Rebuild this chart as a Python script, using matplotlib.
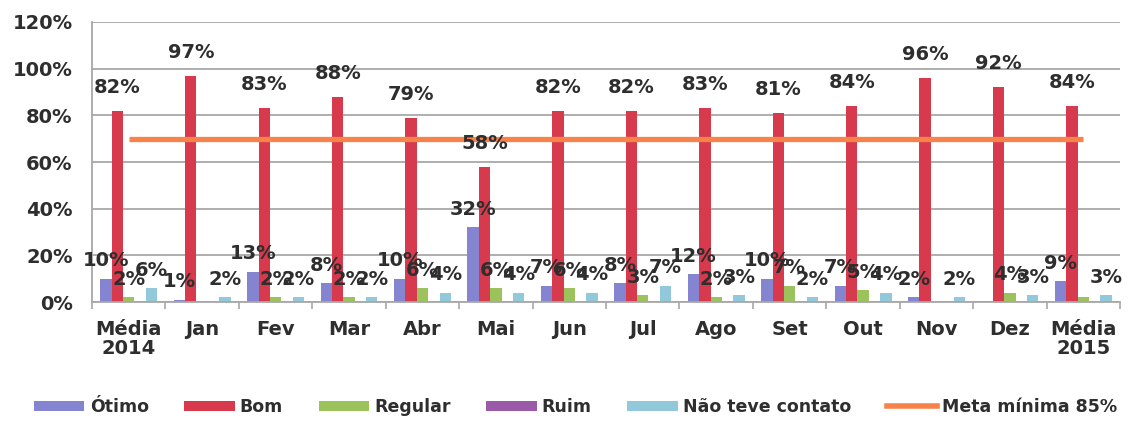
import matplotlib
matplotlib.use("Agg")
import matplotlib.pyplot as plt
import numpy as np
from matplotlib.patches import Patch
from matplotlib.lines import Line2D

categories = ["Média\n2014", "Jan", "Fev", "Mar", "Abr", "Mai", "Jun", "Jul",
              "Ago", "Set", "Out", "Nov", "Dez", "Média\n2015"]
otimo   = [10, 1, 13, 8, 10, 32, 7, 8, 12, 10, 7, 2, 0, 9]
bom     = [82, 97, 83, 88, 79, 58, 82, 82, 83, 81, 84, 96, 92, 84]
regular = [2, 0, 2, 2, 6, 6, 6, 3, 2, 7, 5, 0, 4, 2]
ruim    = [0, 0, 0, 0, 0, 0, 0, 0, 0, 0, 0, 0, 0, 0]
nao_teve_contato = [6, 2, 2, 2, 4, 4, 4, 7, 3, 2, 4, 2, 3, 3]
meta = [70, 70, 70, 70, 70, 70, 70, 70, 70, 70, 70, 70, 70, 70]
yticks = [0, 20, 40, 60, 80, 100, 120]
series_names = ["Ótimo", "Bom", "Regular", "Ruim", "Não teve contato"]
meta_label = "Meta mínima 85%"
hidden_labels = {(13, "Regular")}

colors = ["#8484d0", "#d63a4c", "#9cc25c", "#9a5aa8", "#92c9da"]
meta_color = "#f7834a"
text_color = "#2e2e2e"

fig = plt.figure(figsize=(11.36, 4.23), dpi=100)
ax = fig.add_axes([0.081, 0.286, 0.905, 0.662])

x = np.arange(len(categories))
w = 0.155
series = [otimo, bom, regular, ruim, nao_teve_contato]
for i, (name, vals, c) in enumerate(zip(series_names, series, colors)):
    xs = x + (i - 2) * w
    ax.bar(xs, vals, width=w, color=c, zorder=2, linewidth=0)
    for j, (xx, v) in enumerate(zip(xs, vals)):
        if v > 0 and (j, name) not in hidden_labels:
            off = 10 if name == "Bom" else 6
            ax.annotate(f"{v}%", (xx, v), xytext=(0, off), textcoords="offset points",
                        ha="center", va="bottom", fontsize=14, fontweight="bold",
                        color=text_color, zorder=5)

ax.plot(x, meta, color=meta_color, linewidth=3.8, zorder=3, solid_capstyle="butt")

ax.set_xlim(-0.5, len(categories) - 0.5)
ax.set_ylim(0, 120)
ax.set_yticks(yticks)
ax.set_yticklabels([f"{t}%" for t in yticks], fontsize=14, fontweight="bold", color=text_color)
ax.grid(axis="y", color="#a8a8a8", linewidth=1.3, zorder=0)
ax.set_axisbelow(True)

ax.set_xticks(x)
ax.set_xticklabels(categories, fontsize=14, fontweight="bold", color=text_color, linespacing=1.0)
ax.set_xticks(np.arange(-0.5, len(categories) + 0.5, 1), minor=True)
ax.tick_params(axis="x", which="major", length=0, pad=13)
ax.tick_params(axis="x", which="minor", length=5, color="#a8a8a8", width=1.2, direction="out")
ax.tick_params(axis="y", length=0, pad=14)

for s in ["top", "right"]:
    ax.spines[s].set_visible(False)
for s in ["left", "bottom"]:
    ax.spines[s].set_color("#a8a8a8")
    ax.spines[s].set_linewidth(1.3)

handles = [Patch(facecolor=c, edgecolor="none") for c in colors]
handles.append(Line2D([0], [0], color=meta_color, linewidth=4))
labels = series_names + [meta_label]
leg = fig.legend(handles, labels, loc="center left", bbox_to_anchor=(0.03, 0.038), ncol=6,
                 frameon=False, handlelength=2.9, handleheight=0.55, columnspacing=2.05,
                 handletextpad=0.3, borderaxespad=0, borderpad=0,
                 prop={"family": "DejaVu Sans", "weight": "bold", "size": 12.5})
for t in leg.get_texts():
    t.set_color(text_color)

fig.savefig("out.png", dpi=100, facecolor="white")
